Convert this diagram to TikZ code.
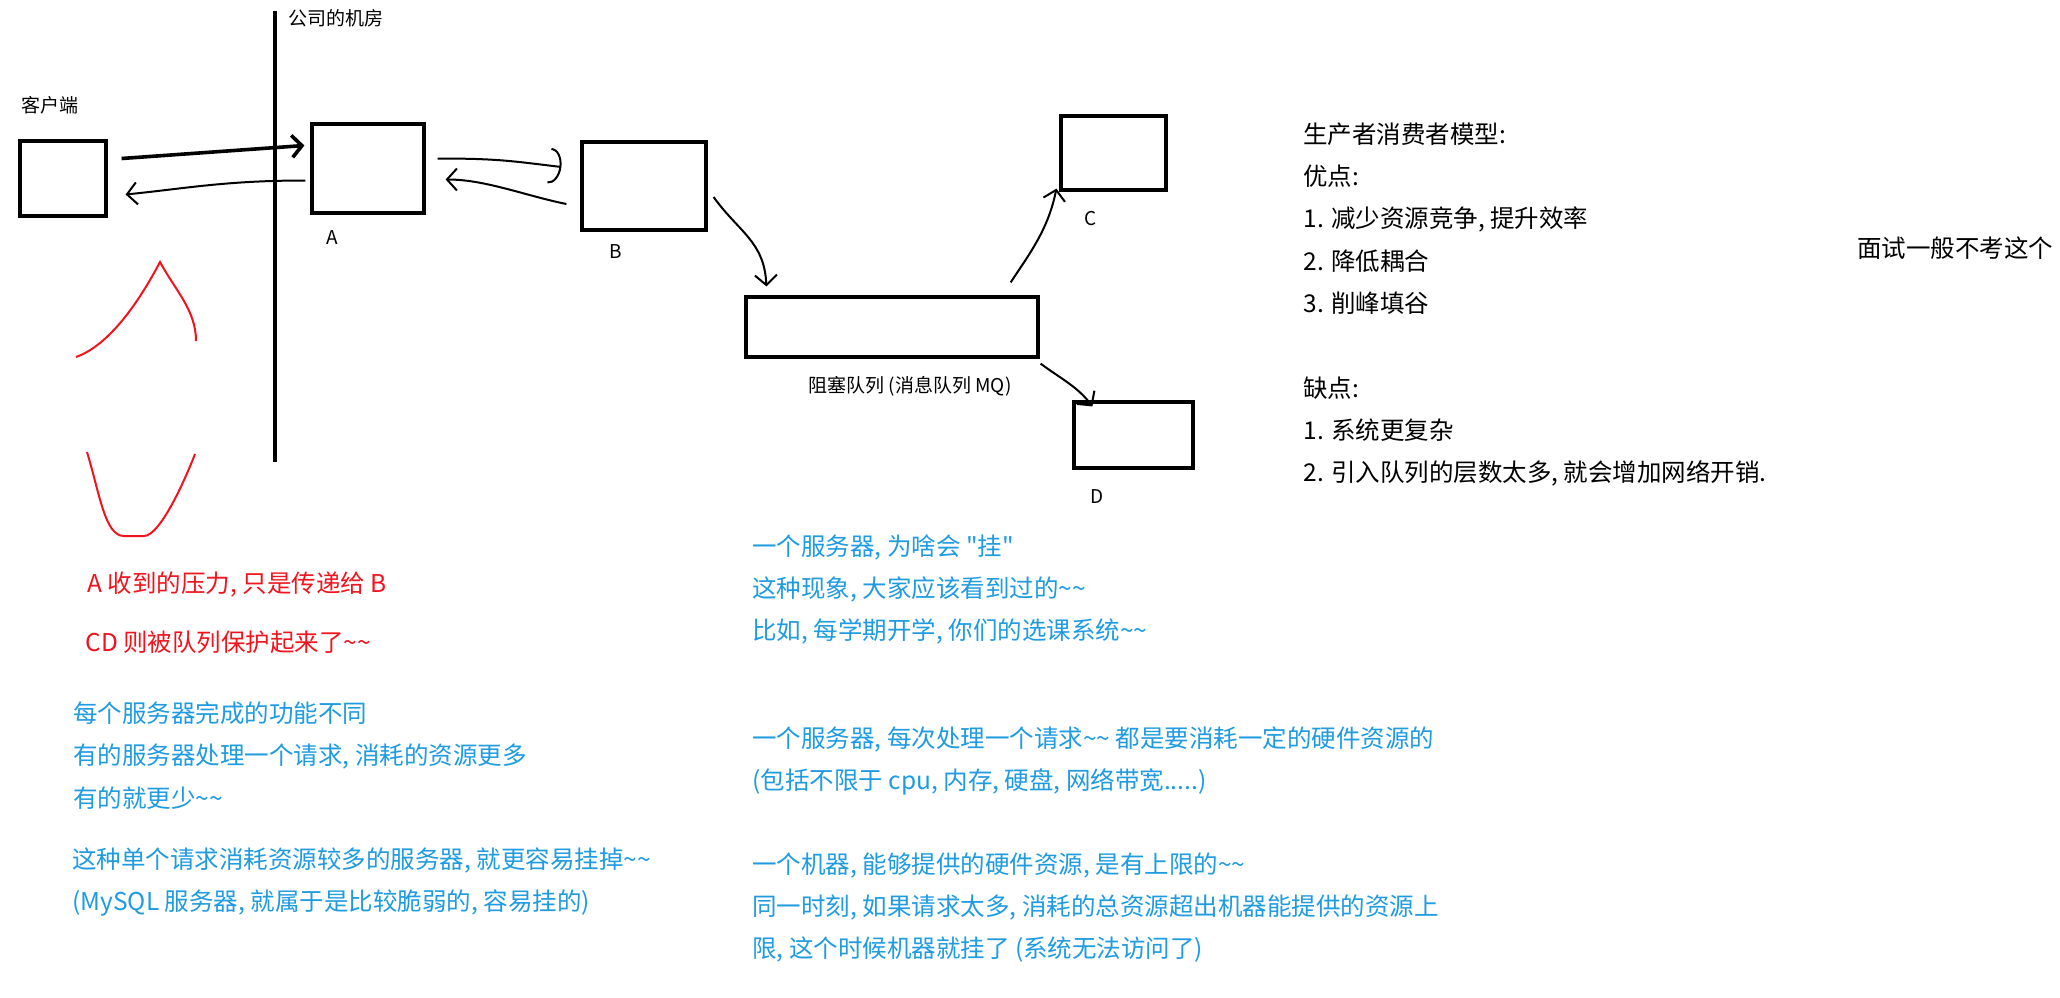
\documentclass[tikz,border=0pt]{standalone}
\usepackage{fontspec}
\setmainfont{Noto Sans CJK SC}[Ligatures=TeXOff]
\usepackage{tikz}
\usetikzlibrary{positioning,arrows.meta}
\definecolor{noteblue}{RGB}{30,155,225}
\definecolor{notered}{RGB}{240,20,30}
\newcommand{\tld}{\textasciitilde}

\begin{document}
\begin{tikzpicture}[
			x=0.5pt,y=-0.5pt,
			box/.style={
				draw,
				line width=1.6pt,
				inner sep=0pt
			},
			tag/.style={font=\fontsize{9.5}{11}\selectfont,inner sep=0pt},
			note/.style={
				font=\fontsize{12.25}{21.2}\selectfont,
				align=left,
				inner sep=0pt,
				anchor=north west
			},
			arrow/.style={-{Straight Barb[length=5pt,width=11pt]},line width=1pt},
			bigarrow/.style={arrow,line width=1.8pt},
			redline/.style={notered,line width=1pt}
			]
			
			\fill[white] (0,0) rectangle (2060,997);
			\useasboundingbox (0,0) rectangle (2060,997);
			
			% wall of the machine room
			\coordinate (wallTop) at (275,11);
			\coordinate (wallBot) at (275,462);
			\draw[line width=1.6pt] (wallTop) -- (wallBot);
			\node[tag,anchor=west] (roomLbl) at (288,18) {公司的机房};
			
			\node[box,minimum width=43pt,minimum height=37.5pt] (client) at (63,178.5) {};
			\node[tag] (clientLbl) at (50,105) {客户端};
			
			\node[box,minimum width=56pt,minimum height=44.5pt] (srvA) at (368,168.5) {};
			\node[box,minimum width=62pt,minimum height=44pt] (srvB) at (644,186) {};
			\node[box,minimum width=52.5pt,minimum height=37pt] (srvC) at (1113.5,153) {};
			\node[box,minimum width=146pt,minimum height=30pt] (queue) at (892,327) {};
			\node[box,minimum width=59.5pt,minimum height=33pt] (srvD) at (1133.5,435) {};
			
			\node[tag] (aLbl) at ([shift={(22,23)}]srvA.south west) {A};
			\node[tag] (bLbl) at ([shift={(35,20)}]srvB.south west) {B};
			\node[tag] (cLbl) at ([shift={(31,27)}]srvC.south west) {C};
			\node[tag] (dLbl) at ([shift={(25,27)}]srvD.south west) {D};
			\node[tag] (queueLbl) at ([shift={(18,28)}]queue.south) {阻塞队列 (消息队列 MQ)};
			
			% requests and responses
			\draw[bigarrow] ([shift={(14,-20)}]client.east) -- ([shift={(-6,-23)}]srvA.west);
			\draw[arrow] ([shift={(-5,12)}]srvA.west) .. controls +(-80,0) and +(60,-6) .. ([shift={(18,16)}]client.east);
			\draw[-{Arc Barb[length=6pt,width=18pt]},line width=1pt] ([shift={(12,-10)}]srvA.east) .. controls +(60,0) and +(-50,-6) .. ([shift={(-19,-19)}]srvB.west);
			\draw[arrow] ([shift={(-14,18)}]srvB.west) .. controls +(-40,-8) and +(40,0) .. ([shift={(20,11)}]srvA.east);
			\draw[arrow] ([shift={(6,11)}]srvB.east) .. controls +(25,35) and +(-2,-45) .. ([shift={(22,-9)}]queue.north west);
			\draw[arrow] ([shift={(-29,-13)}]queue.north east) .. controls +(20,-30) and +(-8,40) .. ([shift={(-3,-3)}]srvC.south west);
			\draw[arrow] ([shift={(1,5)}]queue.south east) .. controls +(20,15) and +(-15,-20) .. ([shift={(20,6)}]srvD.north west);
			
			% peak and valley
			\draw[redline] (76,357) .. controls (110,345) and (140,300) .. (160,262) .. controls (175,290) and (196,310) .. (196,341);
			\draw[redline] (87,452) .. controls (100,495) and (105,536) .. (124,536) -- (144,536) .. controls (160,536) and (185,480) .. (195,454);
			
			\node[note] (prosCons) at (1303,122) {生产者消费者模型:\\优点:\\1. 减少资源竞争, 提升效率\\2. 降低耦合\\3. 削峰填谷\\[21pt]缺点:\\1. 系统更复杂\\2. 引入队列的层数太多, 就会增加网络开销.};
			\node[note,anchor=west] (interview) at (1857,248) {面试一般不考这个};
			
			\node[note,text=notered] (redA) at (87,571) {A 收到的压力, 只是传递给 B};
			\node[note,text=notered] (redCD) at (85,631) {CD 则被队列保护起来了\tld\tld};
			
			\node[note,text=noteblue] (leftNote1) at (73,701) {每个服务器完成的功能不同\\有的服务器处理一个请求, 消耗的资源更多\\有的就更少\tld\tld};
			\node[note,text=noteblue] (leftNote2) at (72,847) {这种单个请求消耗资源较多的服务器, 就更容易挂掉\tld\tld\\(MySQL 服务器, 就属于是比较脆弱的, 容易挂的)};
			
			\node[note,text=noteblue] (midNote1) at (752,534) {一个服务器, 为啥会 "挂"\\这种现象, 大家应该看到过的\tld\tld\\比如, 每学期开学, 你们的选课系统\tld\tld};
			\node[note,text=noteblue] (midNote2) at (752,726) {一个服务器, 每次处理一个请求\tld\tld{} 都是要消耗一定的硬件资源的\\(包括不限于 cpu, 内存, 硬盘, 网络带宽.....)};
			\node[note,text=noteblue] (midNote3) at (752,852) {一个机器, 能够提供的硬件资源, 是有上限的\tld\tld\\同一时刻, 如果请求太多, 消耗的总资源超出机器能提供的资源上\\限, 这个时候机器就挂了 (系统无法访问了)};
			
		\end{tikzpicture}
\end{document}
